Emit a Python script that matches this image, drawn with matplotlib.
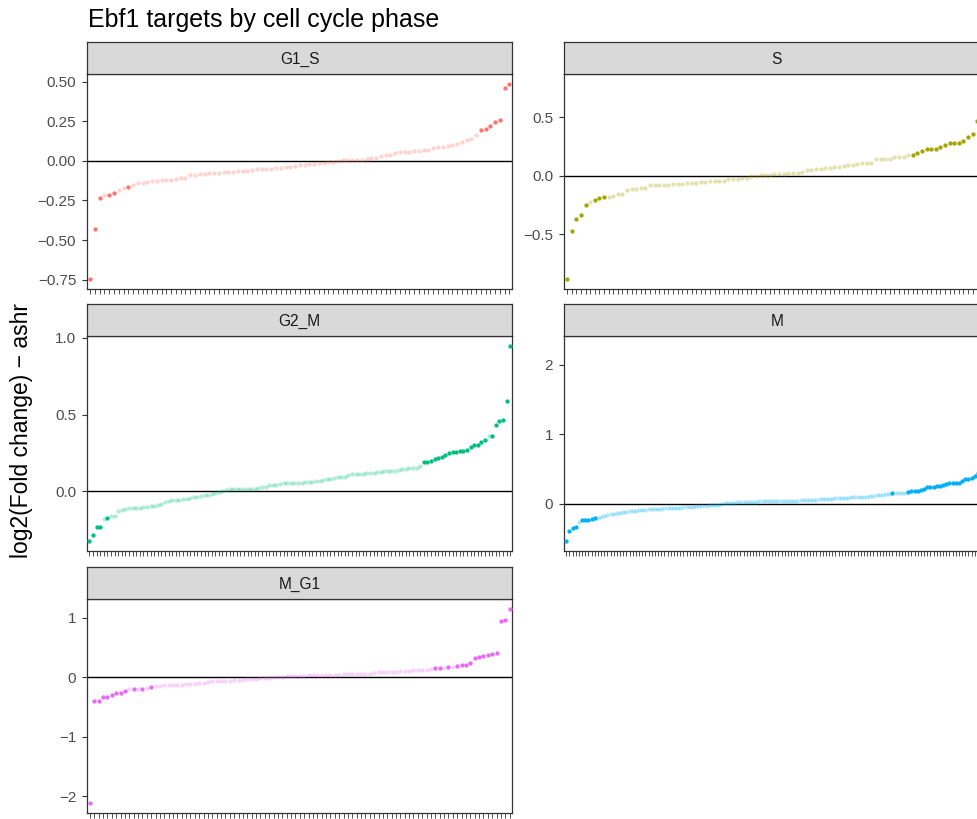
import numpy as np
import matplotlib
matplotlib.use("Agg")
import matplotlib.pyplot as plt

plt.rcParams['font.family'] = ['Liberation Sans', 'DejaVu Sans']

# ---------------- data ----------------
phases = ["G1_S", "S", "G2_M", "M", "M_G1"]
phase_colors = ["#F8766D", "#A3A500", "#00BF7D", "#00B0F6", "#E76BF3"]

g1s_lfc = [-0.747, -0.427, -0.232, -0.216, -0.214, -0.201, -0.182, -0.170, -0.168, -0.155,
           -0.140, -0.138, -0.134, -0.128, -0.126, -0.124, -0.121, -0.121, -0.113, -0.111,
           -0.107, -0.092, -0.090, -0.086, -0.082, -0.080, -0.077, -0.075, -0.073, -0.071,
           -0.069, -0.067, -0.065, -0.063, -0.061, -0.054, -0.052, -0.050, -0.050, -0.046,
           -0.044, -0.040, -0.038, -0.034, -0.029, -0.027, -0.023, -0.019, -0.015, -0.013,
           -0.010, -0.008, 0.000, 0.002, 0.004, 0.004, 0.006, 0.006, 0.010, 0.019,
           0.019, 0.029, 0.036, 0.038, 0.048, 0.054, 0.057, 0.057, 0.061, 0.063,
           0.067, 0.071, 0.080, 0.084, 0.084, 0.096, 0.098, 0.105, 0.119, 0.134,
           0.136, 0.163, 0.195, 0.201, 0.220, 0.245, 0.258, 0.459, 0.484]
g1s_sig = [0, 1, 2, 4, 5, 8] + list(range(82, 89))

s_lfc = [-0.881, -0.473, -0.371, -0.337, -0.252, -0.221, -0.210, -0.193, -0.184, -0.178,
         -0.170, -0.156, -0.153, -0.125, -0.113, -0.110, -0.105, -0.105, -0.082, -0.082,
         -0.076, -0.076, -0.076, -0.074, -0.071, -0.068, -0.065, -0.065, -0.059, -0.054,
         -0.054, -0.048, -0.042, -0.042, -0.042, -0.028, -0.028, -0.025, -0.020, -0.017,
         -0.006, 0.000, 0.003, 0.006, 0.008, 0.011, 0.014, 0.017, 0.020, 0.023,
         0.025, 0.028, 0.045, 0.051, 0.057, 0.059, 0.062, 0.068, 0.071, 0.076,
         0.082, 0.088, 0.096, 0.102, 0.105, 0.108, 0.108, 0.139, 0.142, 0.142,
         0.147, 0.159, 0.161, 0.161, 0.176, 0.181, 0.190, 0.215, 0.224, 0.229,
         0.232, 0.241, 0.266, 0.278, 0.283, 0.283, 0.292, 0.326, 0.360, 0.470,
         0.560, 0.781]
s_sig = [0, 1, 2, 3, 4, 6, 7, 8] + list(range(75, 92))

g2m_lfc = [-0.324, -0.285, -0.233, -0.233, -0.179, -0.175, -0.160, -0.160, -0.127, -0.121,
           -0.114, -0.108, -0.108, -0.108, -0.106, -0.104, -0.102, -0.097, -0.095, -0.089,
           -0.082, -0.067, -0.063, -0.058, -0.058, -0.056, -0.052, -0.048, -0.041, -0.039,
           -0.035, -0.030, -0.026, -0.022, -0.019, -0.013, -0.002, 0.002, 0.011, 0.013,
           0.015, 0.017, 0.017, 0.017, 0.017, 0.019, 0.019, 0.022, 0.026, 0.032,
           0.039, 0.043, 0.043, 0.048, 0.054, 0.056, 0.056, 0.056, 0.056, 0.056,
           0.060, 0.063, 0.063, 0.065, 0.071, 0.073, 0.080, 0.084, 0.086, 0.093,
           0.093, 0.095, 0.108, 0.112, 0.112, 0.112, 0.114, 0.121, 0.121, 0.123,
           0.125, 0.127, 0.130, 0.130, 0.134, 0.136, 0.140, 0.143, 0.147, 0.151,
           0.153, 0.153, 0.168, 0.194, 0.194, 0.201, 0.212, 0.216, 0.223, 0.240,
           0.251, 0.257, 0.257, 0.266, 0.266, 0.272, 0.287, 0.300, 0.305, 0.324,
           0.337, 0.361, 0.361, 0.434, 0.460, 0.467, 0.590, 0.946]
g2m_sig = [0, 1, 2, 3, 5] + list(range(93, 111)) + list(range(112, 118))

m_lfc = [-0.535, -0.391, -0.348, -0.325, -0.253, -0.234, -0.234, -0.224, -0.210, -0.205,
         -0.200, -0.191, -0.177, -0.158, -0.148, -0.138, -0.129, -0.124, -0.115, -0.110,
         -0.105, -0.100, -0.095, -0.091, -0.081, -0.081, -0.076, -0.076, -0.072, -0.072,
         -0.067, -0.062, -0.062, -0.057, -0.057, -0.053, -0.053, -0.048, -0.048, -0.043,
         -0.038, -0.033, -0.029, -0.029, -0.024, -0.019, -0.019, -0.014, -0.010, 0.000,
         0.010, 0.014, 0.019, 0.019, 0.024, 0.024, 0.024, 0.024, 0.029, 0.029,
         0.033, 0.038, 0.038, 0.038, 0.038, 0.038, 0.043, 0.043, 0.043, 0.043,
         0.043, 0.048, 0.048, 0.048, 0.053, 0.053, 0.057, 0.057, 0.062, 0.062,
         0.067, 0.072, 0.072, 0.076, 0.076, 0.081, 0.081, 0.086, 0.086, 0.091,
         0.095, 0.100, 0.100, 0.100, 0.105, 0.105, 0.110, 0.119, 0.124, 0.129,
         0.129, 0.138, 0.143, 0.153, 0.153, 0.158, 0.162, 0.162, 0.177, 0.186,
         0.186, 0.186, 0.205, 0.220, 0.239, 0.243, 0.248, 0.258, 0.263, 0.267,
         0.282, 0.296, 0.301, 0.301, 0.301, 0.325, 0.353, 0.358, 0.372, 0.401,
         0.439, 0.500, 0.620, 2.266]
m_sig = [0, 1, 2, 3, 5, 6, 7, 8, 9, 103] + list(range(108, 134))

mg1_lfc = [-2.114, -0.396, -0.396, -0.329, -0.329, -0.296, -0.262, -0.262, -0.229, -0.206,
           -0.195, -0.195, -0.195, -0.173, -0.162, -0.151, -0.145, -0.139, -0.128, -0.128,
           -0.123, -0.123, -0.112, -0.106, -0.106, -0.100, -0.095, -0.084, -0.067, -0.061,
           -0.061, -0.061, -0.056, -0.050, -0.045, -0.039, -0.033, -0.022, -0.022, -0.017,
           -0.017, -0.006, 0.006, 0.011, 0.011, 0.017, 0.022, 0.028, 0.028, 0.028,
           0.033, 0.033, 0.033, 0.033, 0.033, 0.033, 0.033, 0.045, 0.056, 0.061,
           0.061, 0.061, 0.061, 0.061, 0.061, 0.078, 0.089, 0.089, 0.089, 0.095,
           0.095, 0.100, 0.100, 0.106, 0.117, 0.117, 0.123, 0.128, 0.139, 0.156,
           0.156, 0.162, 0.173, 0.178, 0.190, 0.206, 0.206, 0.240, 0.323, 0.340,
           0.357, 0.374, 0.390, 0.407, 0.943, 0.959, 1.143]
mg1_sig = [0, 1, 2, 3, 4, 5, 6, 7, 8, 10, 12, 14, 79, 80, 82] + list(range(84, 97))

g1s_ticks = [-0.75, -0.50, -0.25, 0.00, 0.25, 0.50]
g1s_labels = ["-0.75", "-0.50", "-0.25", "0.00", "0.25", "0.50"]
s_ticks = [-0.5, 0.0, 0.5]
s_labels = ["-0.5", "0.0", "0.5"]
g2m_ticks = [0.0, 0.5, 1.0]
g2m_labels = ["0.0", "0.5", "1.0"]
m_ticks = [0, 1, 2]
m_labels = ["0", "1", "2"]
mg1_ticks = [-2, -1, 0, 1]
mg1_labels = ["-2", "-1", "0", "1"]

title = "Ebf1 targets by cell cycle phase"
ylabel = "log2(Fold change) \u2212 ashr"

panels = [
    (g1s_lfc, g1s_sig, g1s_ticks, g1s_labels),
    (s_lfc, s_sig, s_ticks, s_labels),
    (g2m_lfc, g2m_sig, g2m_ticks, g2m_labels),
    (m_lfc, m_sig, m_ticks, m_labels),
    (mg1_lfc, mg1_sig, mg1_ticks, mg1_labels),
]

# ---------------- layout (pixels) ----------------
W, H = 978, 819
fig = plt.figure(figsize=(W / 100, H / 100), dpi=100)

col_x = [87.3, 564.3]
panel_w = 425.0
rows = [(42.3, 74.3, 289.0), (304.3, 336.3, 551.0), (567.3, 599.3, 813.0)]  # strip top, panel top, panel bottom


def box(x0, y0, x1, y1):
    return [x0 / W, 1 - y1 / H, (x1 - x0) / W, (y1 - y0) / H]


edge = "#333333"
for k, (phase, col) in enumerate(zip(phases, phase_colors)):
    r, c = divmod(k, 2)
    st, pt, pb = rows[r]
    x0 = col_x[c]
    x1 = x0 + panel_w
    lfc, sig, ticks, labels = panels[k]
    n = len(lfc)
    xs = np.arange(n)
    vals = np.array(lfc)
    is_sig = np.zeros(n, dtype=bool)
    is_sig[sig] = True

    ax = fig.add_axes(box(x0, pt, x1, pb))
    ax.axhline(0, color="black", lw=1.0, zorder=1)
    ax.plot(xs[~is_sig], vals[~is_sig], "o", ms=3.1, mew=0, color=col, alpha=0.3, zorder=2)
    ax.plot(xs[is_sig], vals[is_sig], "o", ms=3.1, mew=0, color=col, alpha=1.0, zorder=3)

    lo, hi = vals.min(), vals.max()
    rng = hi - lo
    ax.set_ylim(lo - 0.05 * rng, hi + 0.05 * rng)
    ax.set_xlim(-0.6, n - 1 + 0.6)
    ax.set_xticks(xs)
    ax.set_xticklabels([])
    ax.set_yticks(ticks)
    ax.set_yticklabels([l.replace("-", "\u2212") for l in labels])
    ax.tick_params(axis="y", length=3.5, width=0.8, color=edge,
                   labelsize=11, labelcolor="#4D4D4D", pad=4.5)
    ax.tick_params(axis="x", length=3.6, width=0.6, color=edge)
    for sp in ax.spines.values():
        sp.set_color(edge)
        sp.set_linewidth(0.9)

    sax = fig.add_axes(box(x0, st, x1, pt))
    sax.set_facecolor("#D9D9D9")
    sax.set_xticks([])
    sax.set_yticks([])
    for sp in sax.spines.values():
        sp.set_color(edge)
        sp.set_linewidth(0.9)
    sax.text(0.5, 0.47, phase, transform=sax.transAxes, ha="center", va="center",
             fontsize=11.2, color="#1A1A1A")

fig.text(88 / W, 1 - 27 / H, title, ha="left", va="baseline", fontsize=18, color="black")
fig.text(22 / W, 1 - 430 / H, ylabel, ha="center", va="center", rotation=90,
         fontsize=16.5, color="black")

fig.savefig("out.png", dpi=100)
